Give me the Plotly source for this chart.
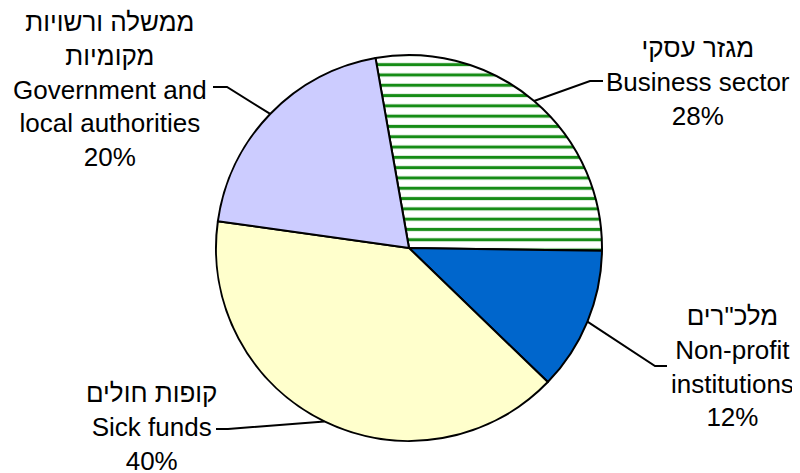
import math
import plotly.graph_objects as go

# ---- data ----
labels_he = ["מגזר עסקי", "מלכ\"רים", "קופות חולים", "ממשלה ורשויות<br>מקומיות"]
labels_en = ["Business sector", "Non-profit<br>institutions", "Sick funds", "Government and<br>local authorities"]
shares = [28, 12, 40, 20]

colors = ["white", "#0066CC", "#FFFFCC", "#CCCCFF"]
patterns = ["-", "", "", ""]

W, H = 800, 473
OFF = 8  # page body margin offset
CX, CY, R = 409 - OFF, 248 - OFF, 193
ROT = -10

fig = go.Figure()
fig.add_trace(go.Pie(
    values=shares,
    labels=[e.replace("<br>", " ") for e in labels_en],
    sort=False,
    direction="clockwise",
    rotation=ROT,
    textinfo="none",
    hoverinfo="label+percent",
    marker=dict(colors=colors, line=dict(color="black", width=2),
                pattern=dict(shape=patterns, fgcolor="#168c16", fgopacity=1, fillmode="overlay",
                             size=10.3, solidity=0.3)),
    domain=dict(x=[(CX - R) / W, (CX + R) / W], y=[1 - (CY + R) / H, 1 - (CY - R) / H]),
    showlegend=False,
))

def px(x, y):
    return (x - OFF) / W, 1 - (y - OFF) / H

def pxc(x, y):
    return x / W, 1 - y / H

# label block centers and leader elbows (pixel layout of the target picture)
label_pos = [(698, 82), (732, 366), (151, 427), (110, 90)]
elbows = [[(590, 81), (603, 81)], [(655, 366), (667, 366)],
          [(228, 429), (216, 429)], [(227, 87), (213, 87)]]

total = sum(shares)
start = ROT
shapes = []
annotations = []
for i, v in enumerate(shares):
    ang = start + 360 * v / total / 2
    start += 360 * v / total
    t = math.radians(ang)
    ex, ey = CX + R * math.sin(t), CY - R * math.cos(t)
    pts = [pxc(ex, ey)] + [px(a, b) for a, b in elbows[i]]
    path = "M " + " L ".join(f"{a},{b}" for a, b in pts)
    shapes.append(dict(type="path", path=path, xref="paper", yref="paper",
                       line=dict(color="black", width=2)))
    pct = round(100 * v / total)
    lx, ly = px(*label_pos[i])
    annotations.append(dict(x=lx, y=ly, xref="paper", yref="paper", showarrow=False,
                            xanchor="center", yanchor="middle", align="center",
                            text=f"{labels_he[i]}<br>{labels_en[i]}<br>{pct}%",
                            font=dict(family="Liberation Sans, Arial, sans-serif", size=26, color="black")))

fig.update_layout(width=W, height=H, margin=dict(l=0, r=0, t=0, b=0),
                  paper_bgcolor="white", plot_bgcolor="white",
                  shapes=shapes, annotations=annotations)

fig.write_html("out.html")
